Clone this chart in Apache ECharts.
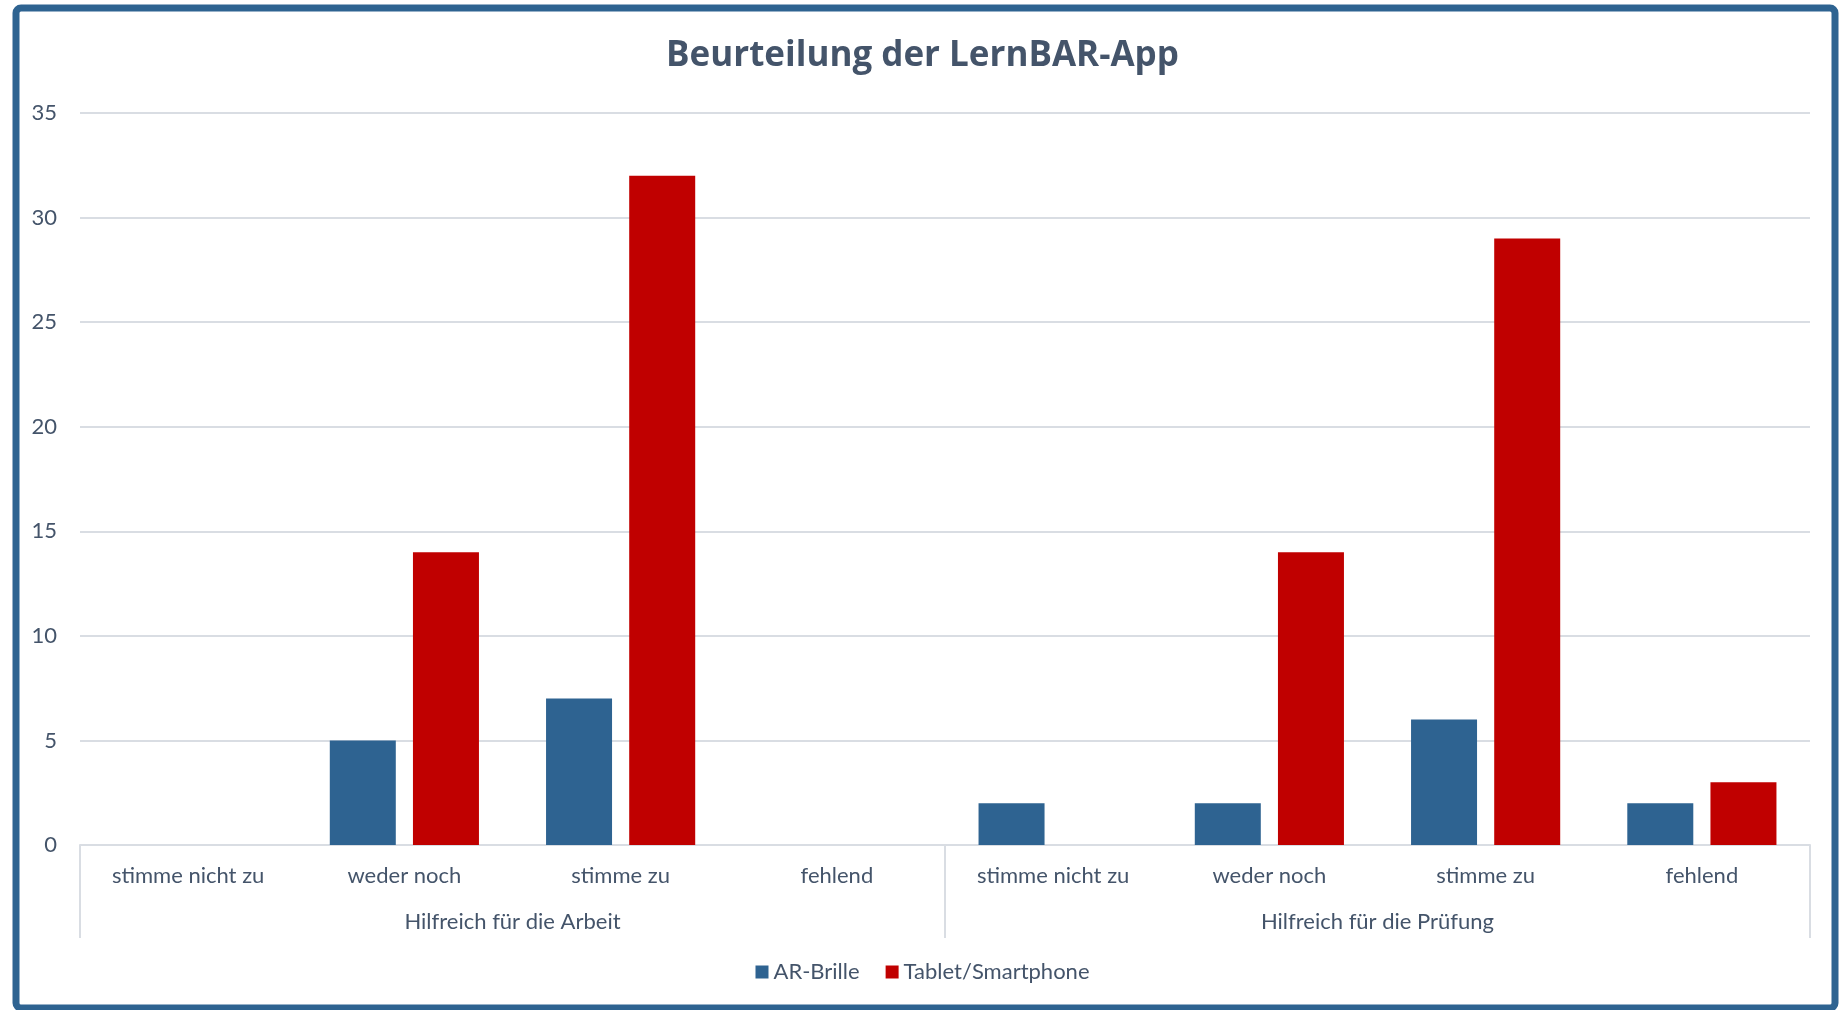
<!DOCTYPE html>
<html>
<head>
<meta charset="utf-8">
<script src="https://cdn.jsdelivr.net/npm/echarts@6/dist/echarts.min.js"></script>
<style>
  html, body { margin: 0; padding: 0; background: #fff; }
  #chart { width: 1845px; height: 1010px; }
</style>
</head>
<body>
<div id="chart"></div>
<script>
var categories = ['stimme nicht zu', 'weder noch', 'stimme zu', 'fehlend',
                  'stimme nicht zu', 'weder noch', 'stimme zu', 'fehlend']
var groups = ['Hilfreich für die Arbeit', 'Hilfreich für die Prüfung']
var arBrille = [0, 5, 7, 0, 2, 2, 6, 2]
var tablet = [0, 14, 32, 0, 0, 14, 29, 3]

var textColor = '#44546A'
var lineColor = '#D9DDE3'
var font = 'Lato'

var chart = echarts.init(document.getElementById('chart'))

var option = {
  animation: false,
  textStyle: { fontFamily: font },
  title: {
    text: 'Beurteilung der LernBAR-App',
    left: 'center',
    top: 34,
    textStyle: { fontFamily: 'Open Sans', fontSize: 35, fontWeight: 'bold', color: textColor }
  },
  legend: {
    bottom: 22,
    left: 'center',
    itemWidth: 13,
    itemHeight: 13,
    itemGap: 26,
    icon: 'rect',
    textStyle: { fontFamily: font, fontSize: 22, color: textColor },
    data: ['AR-Brille', 'Tablet/Smartphone']
  },
  grid: { left: 80, right: 35, top: 113, bottom: 165 },
  xAxis: [
    {
      type: 'category',
      data: categories,
      position: 'bottom',
      axisLine: { lineStyle: { color: lineColor, width: 2 } },
      axisTick: { show: false },
      axisLabel: { fontSize: 22, color: textColor, margin: 20, interval: 0 }
    },
    {
      type: 'category',
      data: groups,
      position: 'bottom',
      axisLine: { show: false },
      axisTick: { show: true, length: 93, lineStyle: { color: lineColor, width: 2 } },
      axisLabel: { fontSize: 22, color: textColor, margin: 66, interval: 0 }
    }
  ],
  yAxis: {
    type: 'value',
    min: 0,
    max: 35,
    interval: 5,
    axisLine: { show: false },
    axisTick: { show: false },
    axisLabel: { fontSize: 22, color: textColor, margin: 23 },
    splitLine: { lineStyle: { color: lineColor, width: 2 } }
  },
  series: [
    {
      name: 'AR-Brille',
      type: 'bar',
      xAxisIndex: 0,
      barWidth: 66,
      barGap: '26%',
      itemStyle: { color: '#2E6391' },
      data: arBrille
    },
    {
      name: 'Tablet/Smartphone',
      type: 'bar',
      xAxisIndex: 0,
      barWidth: 66,
      barGap: '26%',
      itemStyle: { color: '#C00000' },
      data: tablet
    }
  ],
  graphic: [
    {
      type: 'rect',
      silent: true,
      shape: { x: 16, y: 8, width: 1819, height: 1000, r: 5 },
      style: { fill: null, stroke: '#2E6391', lineWidth: 7 }
    }
  ]
}

chart.setOption(option)
</script>
</body>
</html>
